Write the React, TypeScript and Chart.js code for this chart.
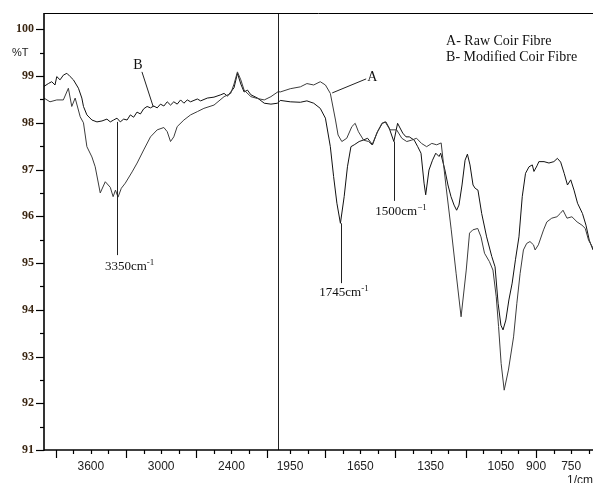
import { useEffect, useRef } from 'react';
import { Chart, registerables } from 'chart.js';

Chart.register(...registerables);

// ---- Data (wavenumber in cm-1, transmittance in %T) ----
const rawWavenumbers = [
  4000, 3949, 3891, 3835, 3792, 3763, 3734, 3691, 3663, 3634, 3591, 3563, 3520, 3477, 3434, 3410, 3390, 3368, 3340, 3306,
  3248, 3205, 3149, 3091, 3034, 2977, 2948, 2920, 2892, 2863, 2806, 2749, 2691, 2635, 2549, 2463, 2406, 2378, 2349, 2320,
  2292, 2234, 2177, 2120, 2063, 2000, 1992, 1949, 1906, 1878, 1849, 1821, 1799, 1778, 1756, 1745, 1729, 1708, 1686, 1672,
  1658, 1636, 1615, 1600, 1580, 1558, 1544, 1523, 1495, 1473, 1452, 1431, 1410, 1389, 1367, 1345, 1324, 1305, 1284, 1262,
  1241, 1220, 1198, 1184, 1170, 1149, 1135, 1120, 1099, 1084, 1070, 1060, 1049, 1036, 1018, 996, 982, 968, 954, 940,
  926, 911, 904, 890, 868, 854, 833, 811, 797, 785, 768, 747, 725, 704, 690, 676, 657,
];
const rawTransmittance = [
  98.53, 98.45, 98.49, 98.49, 98.74, 98.35, 98.53, 98.13, 98.0, 97.49, 97.27, 97.06, 96.5, 96.74, 96.62, 96.42, 96.56, 96.41, 96.6, 96.71,
  96.95, 97.14, 97.42, 97.7, 97.85, 97.9, 97.81, 97.6, 97.7, 97.92, 98.06, 98.17, 98.24, 98.31, 98.38, 98.56, 98.63, 98.83, 99.09, 98.92,
  98.7, 98.56, 98.52, 98.49, 98.56, 98.67, 98.66, 98.73, 98.77, 98.84, 98.81, 98.88, 98.81, 98.63, 98.06, 97.74, 97.6, 97.67, 97.92, 97.99,
  97.81, 97.63, 97.6, 97.53, 97.77, 97.99, 98.02, 97.85, 97.85, 97.67, 97.6, 97.63, 97.67, 97.56, 97.49, 97.56, 97.53, 97.57, 96.63, 95.71,
  94.77, 93.85, 94.85, 95.64, 95.71, 95.74, 95.56, 95.21, 95.03, 94.85, 94.28, 93.64, 92.85, 92.28, 92.71, 93.42, 94.14, 94.78, 95.28, 95.42,
  95.46, 95.39, 95.28, 95.39, 95.71, 95.88, 95.96, 95.99, 96.06, 96.13, 95.96, 95.99, 95.88, 95.81, 95.74, 95.49, 95.32,
];

const modWavenumbers = [
  4000, 3963, 3934, 3906, 3891, 3863, 3835, 3805, 3777, 3749, 3706, 3677, 3663, 3634, 3591, 3548, 3505, 3463, 3434, 3406,
  3377, 3349, 3320, 3291, 3263, 3235, 3206, 3177, 3149, 3120, 3091, 3063, 3034, 3006, 2977, 2948, 2920, 2892, 2863, 2834,
  2806, 2777, 2749, 2691, 2663, 2606, 2549, 2491, 2463, 2434, 2406, 2378, 2349, 2320, 2292, 2263, 2234, 2177, 2120, 2063,
  2006, 1992, 1949, 1906, 1878, 1849, 1821, 1799, 1778, 1764, 1750, 1735, 1719, 1705, 1690, 1676, 1655, 1638, 1619, 1598,
  1577, 1556, 1541, 1527, 1507, 1491, 1469, 1455, 1441, 1420, 1405, 1391, 1378, 1371, 1357, 1342, 1328, 1314, 1307, 1289,
  1276, 1263, 1250, 1239, 1229, 1216, 1203, 1193, 1182, 1169, 1160, 1148, 1132, 1111, 1089, 1075, 1062, 1050, 1041, 1029,
  1016, 1002, 988, 973, 959, 945, 930, 916, 909, 896, 888, 866, 845, 824, 809, 795, 780, 766, 752, 738,
  723, 702, 687, 673, 657,
];
const modTransmittance = [
  98.78, 98.84, 98.88, 98.81, 98.99, 98.92, 99.02, 99.06, 98.99, 98.92, 98.74, 98.53, 98.35, 98.17, 98.06, 98.02, 98.04, 98.08, 98.02, 98.06,
  98.1, 98.02, 98.08, 98.06, 98.17, 98.12, 98.23, 98.19, 98.3, 98.35, 98.32, 98.36, 98.32, 98.4, 98.36, 98.45, 98.38, 98.45, 98.4, 98.49,
  98.42, 98.49, 98.45, 98.51, 98.47, 98.53, 98.55, 98.6, 98.63, 98.57, 98.66, 98.75, 99.06, 98.83, 98.66, 98.7, 98.6, 98.53, 98.42, 98.4,
  98.42, 98.48, 98.45, 98.44, 98.47, 98.42, 98.31, 98.1, 97.49, 96.85, 96.28, 95.85, 96.42, 97.06, 97.49, 97.53, 97.6, 97.63, 97.67, 97.53,
  97.81, 97.99, 98.02, 97.89, 97.6, 97.99, 97.78, 97.7, 97.7, 97.63, 97.49, 97.35, 96.71, 96.46, 96.99, 97.2, 97.35, 97.28, 97.35, 96.99,
  96.67, 96.42, 96.24, 96.13, 96.24, 96.67, 97.2, 97.33, 97.1, 96.67, 96.6, 96.56, 96.06, 95.56, 95.14, 94.92, 94.14, 93.67, 93.57, 93.78,
  94.21, 94.57, 95.07, 95.56, 96.42, 96.92, 97.06, 97.1, 96.96, 97.08, 97.17, 97.17, 97.14, 97.17, 97.24, 97.16, 96.92, 96.67, 96.78, 96.56,
  96.28, 96.06, 95.81, 95.49, 95.28,
];

// ---- Axis ticks ----
const xUpperTicks = [3900, 3750, 3600, 3450, 3300, 3150, 3000, 2850, 2700, 2550, 2400, 2250, 2100];
const xLowerTicks = [1950, 1875, 1800, 1725, 1650, 1575, 1500, 1425, 1350, 1275, 1200, 1125, 1050, 975, 900, 825, 750, 675];
const xLabelTicks = [3600, 3000, 2400, 1950, 1650, 1350, 1050, 900, 750];
const xLongTicks = [3900, 3300, 2700, 2100, 1800, 1500, 1200, 900];
const yTickValues = [91, 91.5, 92, 92.5, 93, 93.5, 94, 94.5, 95, 95.5, 96, 96.5, 97, 97.5, 98, 98.5, 99, 99.5, 100];
const yAxisTitleTick = 99.5;

const X_BREAK = 2000; // scale doubles below this wavenumber
const X_MAX = 4000;
const X_MIN = 657;
const Y_MIN = 91;
const Y_MAX = 100.35;

const toAxis = (w: number) => (w >= X_BREAK ? w : X_BREAK - 2 * (X_BREAK - w));
const fromAxis = (u: number) => (u >= X_BREAK ? u : X_BREAK - (X_BREAK - u) / 2);

const SERIF = '"Liberation Serif", "Times New Roman", serif';
const SANS = '"Liberation Sans", Arial, sans-serif';

const zeroPadding = (scale: any) => {
  scale.paddingTop = 0;
  scale.paddingBottom = 0;
  scale.paddingLeft = 0;
  scale.paddingRight = 0;
};

const decorPlugin = {
  id: 'decor',
  afterDraw(chart: any) {
    const { ctx, chartArea: a, scales } = chart;
    const xs = scales.x;
    const ys = scales.y;
    const px = (w: number) => xs.getPixelForValue(toAxis(w));
    const py = (t: number) => ys.getPixelForValue(t);
    const line = (x1: number, y1: number, x2: number, y2: number) => {
      ctx.beginPath();
      ctx.moveTo(x1, y1);
      ctx.lineTo(x2, y2);
      ctx.stroke();
    };
    ctx.save();
    // break line at 2000
    ctx.strokeStyle = '#222';
    ctx.lineWidth = 1;
    const bx = Math.round(px(X_BREAK)) + 0.5;
    line(bx, a.top, bx, a.bottom);
    // frame
    ctx.strokeStyle = '#000';
    ctx.lineWidth = 1;
    line(a.left, a.top + 0.5, a.right, a.top + 0.5);
    ctx.lineWidth = 1.6;
    line(a.left, a.top, a.left, a.bottom + 0.8);
    line(a.left, a.bottom, a.right, a.bottom);
    // y ticks
    ctx.lineWidth = 1.2;
    yTickValues.forEach((t) => {
      const yy = Math.round(py(t)) + 0.5;
      const len = Number.isInteger(t) ? 8 : 4;
      line(a.left - len, yy, a.left, yy);
    });
    // x ticks
    [...xUpperTicks, ...xLowerTicks].forEach((w) => {
      const xx = Math.round(px(w)) + 0.5;
      const len = xLongTicks.includes(w) ? 8 : 4;
      line(xx, a.bottom, xx, a.bottom + len);
    });

    // annotations
    ctx.fillStyle = '#111';
    ctx.strokeStyle = '#222';
    ctx.lineWidth = 1;
    const text = (s: string, x: number, y: number, size: number, align: CanvasTextAlign = 'left') => {
      ctx.font = `${size}px ${SERIF}`;
      ctx.textAlign = align;
      ctx.textBaseline = 'middle';
      ctx.fillText(s, x, y);
    };
    const supText = (main: string, sup: string, x: number, y: number) => {
      ctx.font = `13px ${SERIF}`;
      ctx.textAlign = 'left';
      ctx.textBaseline = 'middle';
      ctx.fillText(main, x, y);
      const w = ctx.measureText(main).width;
      ctx.font = `9px ${SERIF}`;
      ctx.fillText(sup, x + w, y - 4);
    };

    // B label
    text('B', px(3198), py(99.22), 14, 'center');
    line(px(3164), py(99.09), px(3067), py(98.34));
    // A label
    text('A', px(1599), py(98.98), 14, 'center');
    line(px(1625), py(98.94), px(1770), py(98.64));
    // legend text
    text('A- Raw Coir Fibre', px(1284), py(99.75), 14);
    text('B- Modified Coir Fibre', px(1284), py(99.4), 14);

    // peak markers
    const x3350 = Math.round(px(3380)) + 0.5;
    line(x3350, py(98.02), x3350, py(95.17));
    supText('3350cm', '-1', px(3480), py(94.92));

    const x1745 = Math.round(px(1733)) + 0.5;
    line(x1745, py(95.85), x1745, py(94.57));
    supText('1745cm', '-1', px(1825), py(94.37));

    const x1500 = Math.round(px(1507)) + 0.5;
    line(x1500, py(97.6), x1500, py(96.33));
    supText('1500cm', '\u22121', px(1586), py(96.11));

    // x unit
    ctx.font = `12px ${SANS}`;
    ctx.textAlign = 'left';
    ctx.textBaseline = 'alphabetic';
    ctx.fillStyle = '#222';
    ctx.fillText('1/cm', px(768), a.bottom + 34);
    ctx.restore();
  },
};

export default function App() {
  const canvasRef = useRef<HTMLCanvasElement | null>(null);

  useEffect(() => {
    document.body.style.margin = '0';
    const canvas = canvasRef.current;
    if (!canvas) return;
    const chart = new Chart(canvas, {
      type: 'line',
      data: {
        datasets: [
          {
            label: 'A- Raw Coir Fibre',
            data: rawWavenumbers.map((w, i) => ({ x: toAxis(w), y: rawTransmittance[i] })),
            borderColor: '#3c3c3c',
            borderWidth: 1,
            pointRadius: 0,
            tension: 0,
            fill: false,
          },
          {
            label: 'B- Modified Coir Fibre',
            data: modWavenumbers.map((w, i) => ({ x: toAxis(w), y: modTransmittance[i] })),
            borderColor: '#111',
            borderWidth: 1,
            pointRadius: 0,
            tension: 0,
            fill: false,
          },
        ],
      },
      options: {
        responsive: false,
        animation: false,
        devicePixelRatio: 1,
        layout: { padding: { top: 13, left: 0, right: 0, bottom: 0 } },
        plugins: {
          legend: { display: false },
          tooltip: { enabled: false },
          title: { display: false },
        },
        scales: {
          x: {
            type: 'linear',
            reverse: true,
            min: toAxis(X_MIN),
            max: X_MAX,
            afterBuildTicks: (scale: any) => {
              scale.ticks = [...xUpperTicks, ...xLowerTicks].map((w) => ({ value: toAxis(w) }));
            },
            afterFit: (scale: any) => {
              scale.height = 33;
              zeroPadding(scale);
            },
            grid: { display: false, drawTicks: false },
            border: { display: false },
            ticks: {
              autoSkip: false,
              maxRotation: 0,
              minRotation: 0,
              padding: 9,
              color: '#222',
              font: { family: SANS, size: 12 },
              callback: (v: any) => {
                const w = Math.round(fromAxis(Number(v)));
                return xLabelTicks.includes(w) ? String(w) : '';
              },
            },
          },
          y: {
            type: 'linear',
            min: Y_MIN,
            max: Y_MAX,
            afterBuildTicks: (scale: any) => {
              scale.ticks = yTickValues.map((v) => ({ value: v }));
            },
            afterFit: (scale: any) => {
              scale.width = 44;
              zeroPadding(scale);
            },
            grid: { display: false, drawTicks: false },
            border: { display: false },
            ticks: {
              autoSkip: false,
              padding: 10,
              color: (ctx: any) => (ctx.tick && ctx.tick.value === yAxisTitleTick ? '#222' : '#3a2612'),
              font: (ctx: any) =>
                ctx.tick && ctx.tick.value === yAxisTitleTick
                  ? { family: SANS, size: 11, weight: 'normal' }
                  : { family: SERIF, size: 12, weight: 'bold' },
              callback: (v: any) => {
                const n = Number(v);
                if (n === yAxisTitleTick) return '%T\u2002';
                return Number.isInteger(n) ? String(n) : '';
              },
            },
          },
        },
      },
      plugins: [decorPlugin],
    });
    return () => chart.destroy();
  }, []);

  return (
    <div style={{ width: 593, height: 483, background: '#fff' }}>
      <canvas ref={canvasRef} width={593} height={483} />
    </div>
  );
}
